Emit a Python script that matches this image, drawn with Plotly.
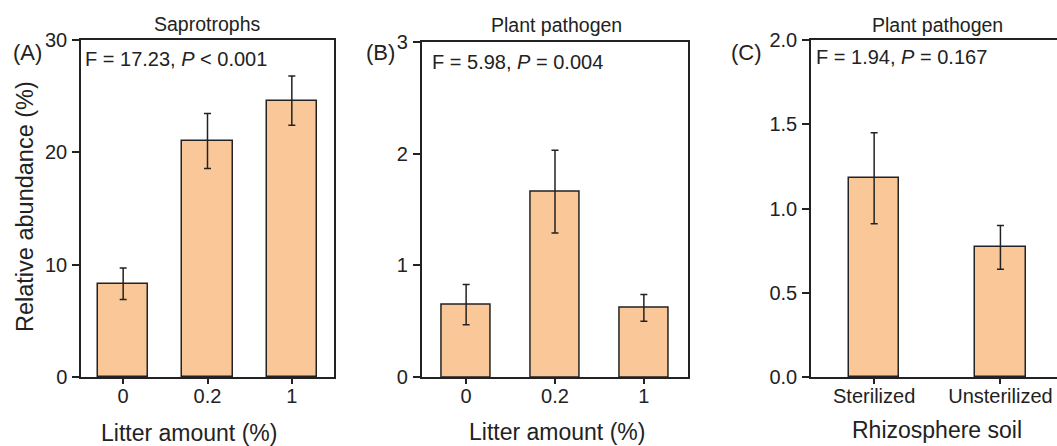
import plotly.graph_objects as go

W, H = 1057, 446

# ---- data ----
litter_levels = ["0", "0.2", "1"]
sapro_mean = [8.3, 21.0, 24.6]
sapro_se = [1.4, 2.45, 2.2]

path_litter_mean = [0.65, 1.66, 0.62]
path_litter_se = [0.18, 0.37, 0.12]

soil_types = ["Sterilized", "Unsterilized"]
path_soil_mean = [1.18, 0.77]
path_soil_se = [0.27, 0.13]

panel_titles = ["Saprotrophs", "Plant pathogen", "Plant pathogen"]
panel_labels = ["(A)", "(B)", "(C)"]
stats_text = ["F = 17.23, <i>P</i> &lt; 0.001", "F = 5.98, <i>P</i> = 0.004", "F = 1.94, <i>P</i> = 0.167"]
x_titles = ["Litter amount (%)", "Litter amount (%)", "Rhizosphere soil"]
y_title = "Relative abundance (%)"

FILL = "#FAC898"
INK = "#222222"
FONT = "Arial, Liberation Sans, sans-serif"

def px(x, y):
    return x / W, 1 - y / H

fig = go.Figure()

panels = [
    dict(x=litter_levels, y=sapro_mean, e=sapro_se, width=0.6, xa="x", ya="y"),
    dict(x=litter_levels, y=path_litter_mean, e=path_litter_se, width=0.55, xa="x2", ya="y2"),
    dict(x=soil_types, y=path_soil_mean, e=path_soil_se, width=0.40, xa="x3", ya="y3"),
]
for p in panels:
    fig.add_trace(go.Bar(
        x=p["x"], y=p["y"], width=p["width"], xaxis=p["xa"], yaxis=p["ya"],
        marker=dict(color=FILL, line=dict(color=INK, width=1.5)),
        error_y=dict(type="data", array=p["e"], visible=True, color=INK, thickness=1.5, width=3.5),
        showlegend=False, hoverinfo="skip",
    ))

tickfont = dict(family=FONT, size=20, color=INK)
common_x = dict(showline=True, linecolor=INK, linewidth=1.5, ticks="outside", ticklen=5,
                tickwidth=1.5, tickcolor=INK, tickfont=tickfont, showgrid=False, zeroline=False,
                fixedrange=True, automargin=False, ticklabelstandoff=-5)
common_y = dict(showline=True, linecolor=INK, linewidth=1.5, ticks="outside", ticklen=7,
                tickwidth=1.5, tickcolor=INK, tickfont=tickfont, showgrid=False, zeroline=False,
                fixedrange=True, automargin=False, ticklabelstandoff=1)

fig.update_layout(
    width=W, height=H, autosize=False,
    margin=dict(l=0, r=0, t=0, b=0, pad=0, autoexpand=False),
    showlegend=False,
    paper_bgcolor="white", plot_bgcolor="white",
    font=dict(family=FONT, color=INK),
    bargap=0,
    xaxis=dict(common_x, domain=[81 / W, 334 / W], range=[-0.5, 2.5], mirror=True, anchor="y"),
    yaxis=dict(common_y, domain=[69 / H, 406 / H], range=[0, 30], tickvals=[0, 10, 20, 30],
               mirror=True, anchor="x"),
    xaxis2=dict(common_x, domain=[421.7 / W, 688.3 / W], range=[-0.5, 2.5], mirror=True, anchor="y2"),
    yaxis2=dict(common_y, domain=[68.7 / H, 404.3 / H], range=[0, 3], tickvals=[0, 1, 2, 3],
                mirror=True, anchor="x2"),
    xaxis3=dict(common_x, domain=[811 / W, 1.0], range=[-0.5, 1.448], mirror=True, anchor="y3"),
    yaxis3=dict(common_y, domain=[68.7 / H, 406 / H], range=[0, 2.0], tickvals=[0, 0.5, 1.0, 1.5, 2.0],
                tickformat=".1f", mirror=False, anchor="x3"),
)

ann = []
title_pos = [(207, 24), (556.7, 25), (937.7, 25)]
label_pos = [(27, 52), (380, 52), (746, 52)]
stats_pos = [(83, 59), (430, 62), (814, 57)]
xt_pos = [(189, 433), (556.7, 432), (936.7, 430)]
for i in range(3):
    x, y = px(*title_pos[i])
    ann.append(dict(x=x, y=y, xref="paper", yref="paper", text=panel_titles[i], showarrow=False,
                    xanchor="center", yanchor="middle", font=dict(family=FONT, size=19.5, color=INK)))
    x, y = px(*label_pos[i])
    ann.append(dict(x=x, y=y, xref="paper", yref="paper", text=panel_labels[i], showarrow=False,
                    xanchor="center", yanchor="middle", font=dict(family=FONT, size=22, color=INK)))
    x, y = px(*stats_pos[i])
    ann.append(dict(x=x, y=y, xref="paper", yref="paper", text=stats_text[i], showarrow=False,
                    xanchor="left", yanchor="middle", font=dict(family=FONT, size=20, color=INK)))
    x, y = px(*xt_pos[i])
    ann.append(dict(x=x, y=y, xref="paper", yref="paper", text=x_titles[i], showarrow=False,
                    xanchor="center", yanchor="middle", font=dict(family=FONT, size=23, color=INK)))
x, y = px(25, 207)
ann.append(dict(x=x, y=y, xref="paper", yref="paper", text=y_title, showarrow=False, textangle=-90,
                xanchor="center", yanchor="middle", font=dict(family=FONT, size=23.5, color=INK)))
fig.update_layout(annotations=ann)

fig.write_html("out.html")
